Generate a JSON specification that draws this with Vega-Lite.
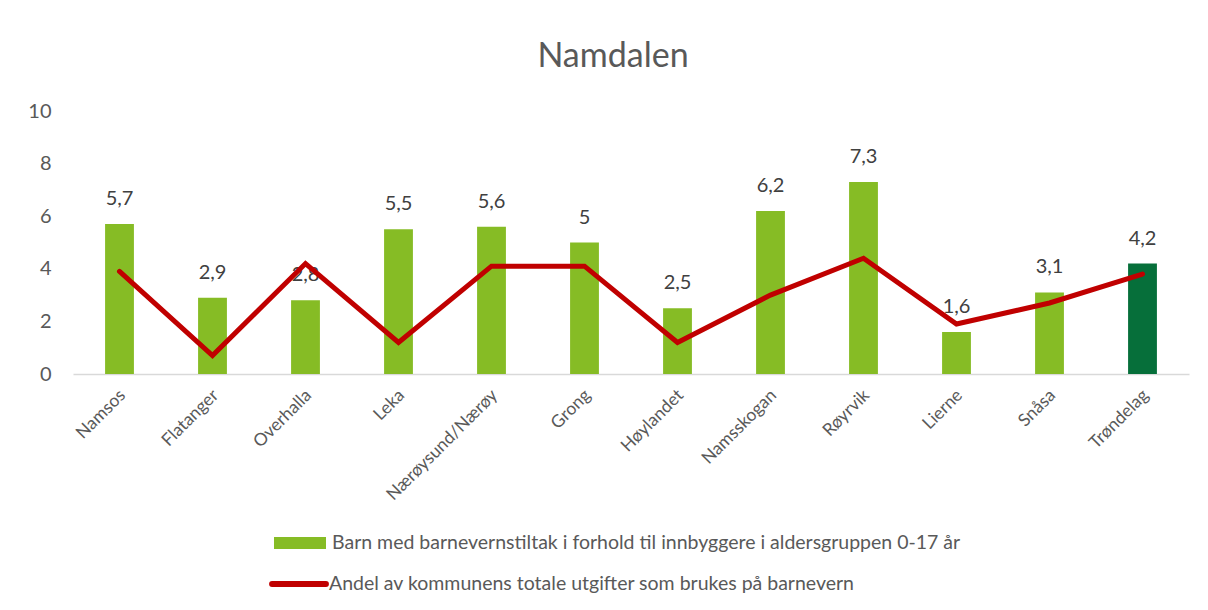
{
  "$schema": "https://vega.github.io/schema/vega-lite/v6.json",
  "width": 1116,
  "height": 263,
  "autosize": {"type": "none"},
  "padding": {"left": 73, "top": 111, "right": 19, "bottom": 236},
  "background": "white",
  "title": {
    "text": "Namdalen",
    "font": "Lato",
    "fontSize": 34,
    "fontWeight": "normal",
    "color": "#595959",
    "anchor": "middle",
    "dx": -18,
    "baseline": "alphabetic",
    "offset": 0
  },
  "config": {
    "view": {"stroke": null},
    "locale": {"number": {"decimal": ",", "thousands": " ", "grouping": [3], "currency": ["", " kr"]}}
  },
  "data": {
    "values": [
      {"kommune": "Namsos", "barn": 5.7, "andel": 3.9},
      {"kommune": "Flatanger", "barn": 2.9, "andel": 0.7},
      {"kommune": "Overhalla", "barn": 2.8, "andel": 4.2},
      {"kommune": "Leka", "barn": 5.5, "andel": 1.2},
      {"kommune": "Nærøysund/Nærøy", "barn": 5.6, "andel": 4.1},
      {"kommune": "Grong", "barn": 5.0, "andel": 4.1},
      {"kommune": "Høylandet", "barn": 2.5, "andel": 1.2},
      {"kommune": "Namsskogan", "barn": 6.2, "andel": 3.0},
      {"kommune": "Røyrvik", "barn": 7.3, "andel": 4.4},
      {"kommune": "Lierne", "barn": 1.6, "andel": 1.9},
      {"kommune": "Snåsa", "barn": 3.1, "andel": 2.7},
      {"kommune": "Trøndelag", "barn": 4.2, "andel": 3.8}
    ]
  },
  "encoding": {
    "x": {
      "field": "kommune",
      "type": "nominal",
      "sort": null,
      "scale": {"paddingInner": 0.69, "paddingOuter": 0.345},
      "axis": {
        "title": null,
        "labelAngle": -45,
        "labelFont": "Lato",
        "labelFontSize": 17.5,
        "labelColor": "#595959",
        "labelPadding": 12,
        "labelOffset": -3,
        "ticks": false,
        "domainColor": "#d9d9d9",
        "domainWidth": 1.5
      }
    }
  },
  "layer": [
    {
      "mark": {"type": "bar"},
      "encoding": {
        "y": {
          "field": "barn",
          "type": "quantitative",
          "scale": {"domain": [0, 10]},
          "axis": {
            "title": null,
            "values": [0, 2, 4, 6, 8, 10],
            "domain": false,
            "ticks": false,
            "grid": false,
            "labelFont": "Lato",
            "labelFontSize": 20,
            "labelColor": "#595959",
            "labelPadding": 22
          }
        },
        "fill": {
          "datum": "Barn med barnevernstiltak i forhold til innbyggere i aldersgruppen 0-17 år",
          "type": "nominal",
          "scale": {"range": ["#86BC25"]},
          "condition": {"test": "datum.kommune === 'Trøndelag'", "value": "#066F3A"},
          "legend": {
            "title": null,
            "orient": "none",
            "legendX": 201,
            "legendY": 406,
            "symbolType": "M-1,-0.23H1V0.23H-1Z",
            "symbolSize": 2704,
            "symbolStrokeWidth": 0,
            "labelFont": "Lato",
            "labelFontSize": 19.5,
            "labelColor": "#595959",
            "labelOffset": 6,
            "labelLimit": 900
          }
        }
      }
    },
    {
      "mark": {"type": "text", "dy": -25, "font": "Lato", "fontSize": 20, "color": "#404040", "baseline": "middle"},
      "encoding": {
        "y": {"field": "barn", "type": "quantitative"},
        "text": {"field": "barn", "type": "quantitative", "format": ".1~f"}
      }
    },
    {
      "mark": {"type": "line", "strokeWidth": 5, "strokeCap": "round", "strokeJoin": "miter"},
      "encoding": {
        "y": {"field": "andel", "type": "quantitative"},
        "stroke": {
          "datum": "Andel av kommunens totale utgifter som brukes på barnevern",
          "type": "nominal",
          "scale": {"range": ["#C00000"]},
          "legend": {
            "title": null,
            "orient": "none",
            "legendX": 196,
            "legendY": 443,
            "symbolType": "stroke",
            "symbolSize": 2900,
            "symbolStrokeWidth": 6,
            "labelFont": "Lato",
            "labelFontSize": 19.5,
            "labelColor": "#595959",
            "labelOffset": 0,
            "labelLimit": 900,
            "symbolStrokeColor": "#C00000",
            "encode": {"symbols": {"update": {"strokeCap": {"value": "round"}}}}
          }
        }
      }
    }
  ]
}
